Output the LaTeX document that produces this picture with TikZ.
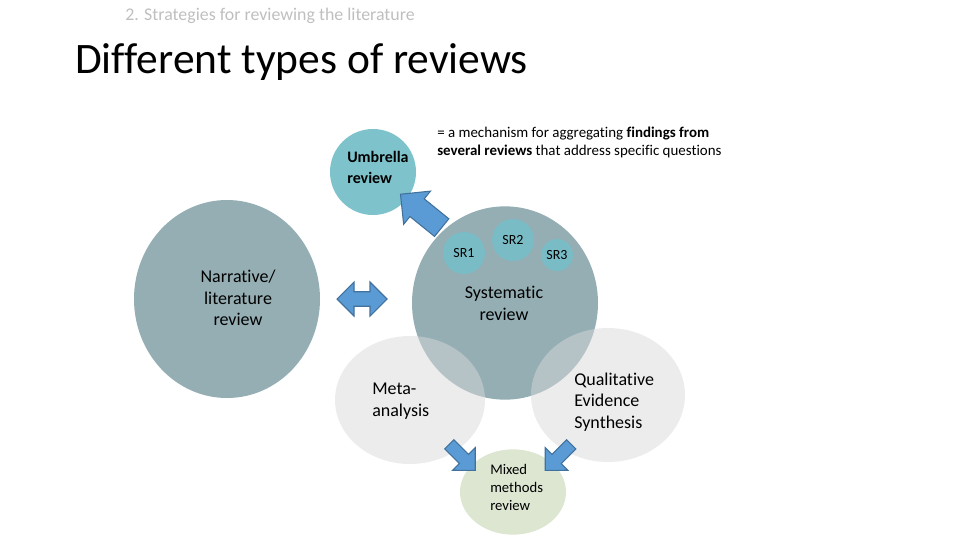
\documentclass[tikz,border=0pt]{standalone}
\usepackage{fontspec}
\setmainfont[Ligatures={NoCommon,NoContextual,NoRare}, RawFeature={-liga;-clig}]{Carlito}
\usetikzlibrary{shapes.geometric, shapes.arrows}

\definecolor{sysgray}{HTML}{94AEB3}
\definecolor{umbteal}{HTML}{7EC3CC}
\definecolor{srteal}{HTML}{7ABCC6}
\definecolor{mixgreen}{HTML}{DCE6D1}
\definecolor{arrfill}{HTML}{5B9BD5}
\definecolor{arrline}{HTML}{41719C}
\definecolor{subgray}{HTML}{BFBFBF}

\begin{document}
\begin{tikzpicture}[
      x=0.75pt, y=-0.75pt,
      blob/.style={ellipse, inner sep=0pt},
      txt/.style={inner sep=0pt, font=\fontsize{13.5}{16.3}\selectfont},
      over/.style={blob, fill=black!15, fill opacity=0.5},
      blockarr/.style={single arrow, draw=arrline, fill=arrfill, line width=0.8pt,
                       inner xsep=0pt, single arrow tip angle=90},
      dblarr/.style={double arrow, draw=arrline, fill=arrfill, line width=0.8pt,
                     inner xsep=0pt, double arrow tip angle=90}]
    \useasboundingbox (0,0) rectangle (960,540);

    % headings
    \node[anchor=base west, inner sep=0pt, text=subgray, font=\fontsize{13.4}{16}\selectfont]
      (sub) at (125,20) {2. Strategies for reviewing the literature};
    \node[anchor=base west, inner sep=0pt, font=\fontsize{32.6}{38}\selectfont]
      (title) at (75,73) {Different types of reviews};

    % circles
    \node[blob, fill=sysgray, minimum width=139.5pt, minimum height=148.5pt] (narr) at (227,299) {};
    \node[blob, fill=sysgray, minimum width=139.5pt, minimum height=145pt] (sys) at (505,303) {};
    \node[blob, fill=umbteal, minimum width=64.5pt, minimum height=64.5pt] (umb) at (373,172) {};
    \node[blob, fill=srteal, minimum width=31.5pt, minimum height=31.5pt,
          font=\fontsize{10.5}{12}\selectfont] (sr1) at (464,253) {SR1};
    \node[blob, fill=srteal, minimum width=31.5pt, minimum height=31.5pt,
          font=\fontsize{10.5}{12}\selectfont] (sr2) at (513,240) {SR2};
    \node[blob, fill=srteal, minimum width=24pt, minimum height=24pt,
          font=\fontsize{10.5}{12}\selectfont] (sr3) at (557,255) {SR3};
    \node[over, minimum width=112.5pt, minimum height=96pt] (meta) at (410,400) {};
    \node[over, minimum width=115.5pt, minimum height=100.5pt] (qual) at (608,395) {};
    \node[blob, fill=mixgreen, minimum width=79.5pt, minimum height=64pt] (mix) at (513,492) {};

    % block arrows
    \node[blockarr, minimum height=39.75pt, minimum width=32pt, inner ysep=7.7pt,
          rotate=141] (toumb) at (425.5,214.5) {};
    \node[dblarr, minimum height=37.5pt, minimum width=25.5pt, inner ysep=4.9pt]
      (both) at (362,299) {};
    \node[blockarr, minimum height=27.5pt, minimum width=19.5pt, inner ysep=4.5pt,
          rotate=-45] (metamix) at (460,455) {};
    \node[blockarr, minimum height=27.5pt, minimum width=19.5pt, inner ysep=4.5pt,
          rotate=-135] (qualmix) at (560.5,455) {};

    % texts
    \node[txt, align=center] (narrtxt) at (238,298) {Narrative/\\literature\\review};
    \node[txt, align=center] (systxt) at (504,303) {Systematic\\review};
    \node[txt, anchor=west, align=left, font=\fontsize{12}{15.75}\selectfont\bfseries]
      (umbtxt) at (347,167) {Umbrella\\review};
    \node[txt, anchor=west, align=left, font=\fontsize{11.2}{13.5}\selectfont]
      (desc) at (437,142) {= a mechanism for aggregating \textbf{findings from}\\
                           \textbf{several reviews} that address specific questions};
    \node[txt, anchor=west, align=left] (metatxt) at (372,401) {Meta-\\analysis};
    \node[txt, anchor=west, align=left] (qualtxt) at (574,402) {Qualitative\\Evidence\\Synthesis};
    \node[txt, anchor=west, align=left, font=\fontsize{11}{13.5}\selectfont]
      (mixtxt) at (490,487) {Mixed\\methods\\review};
  \end{tikzpicture}
\end{document}
